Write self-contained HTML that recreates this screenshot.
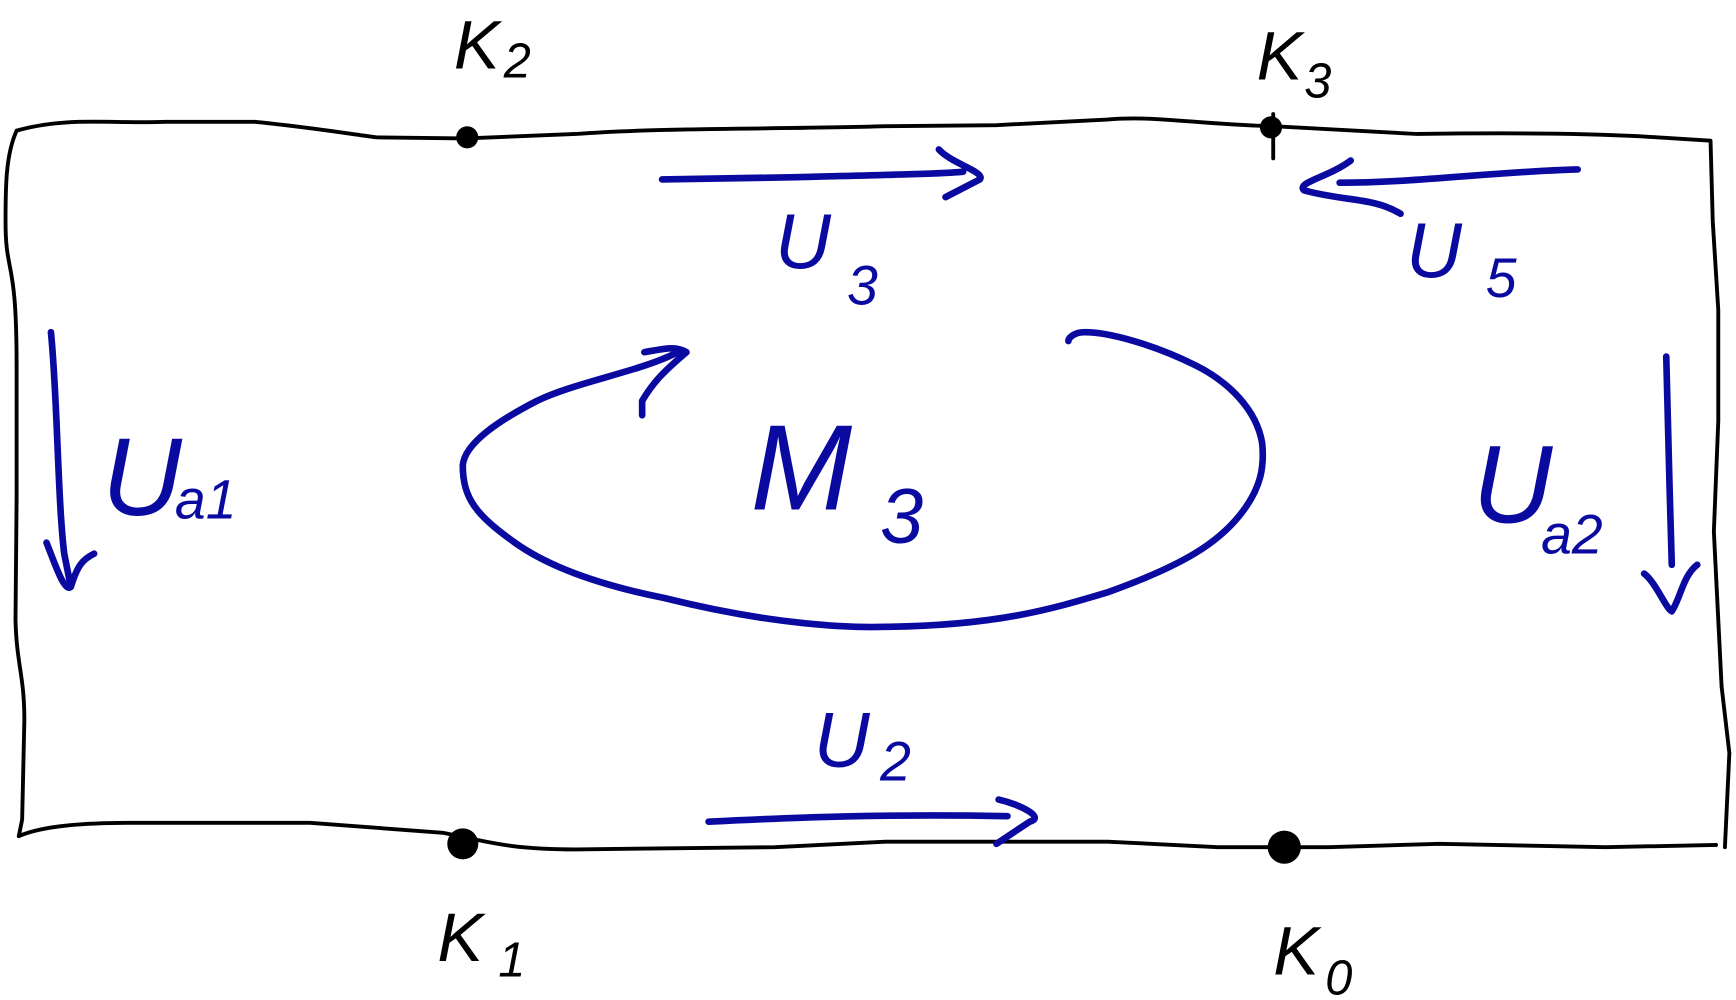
<!DOCTYPE html>
<html><head><meta charset="utf-8"><style>html,body{margin:0;padding:0;background:#fff;}svg{display:block}</style></head><body>
<svg width="1736" height="1000" viewBox="0 0 1568 903" preserveAspectRatio="none" xmlns="http://www.w3.org/2000/svg">
<rect width="1568" height="903" fill="#fff"/>
<g fill="none" stroke="#000" stroke-width="3.5" stroke-linecap="round" stroke-linejoin="round">
<path d="M15 118 C60 105 100 112 150 110 L230 110 C280 115 310 120 340 124 L420 125 L520 121 C600 115 700 117 800 114 L900 113 L1000 108 C1040 104 1080 112 1150 114 L1280 121 C1350 120 1420 120 1480 123 L1545 127 L1547 200 L1552 280 L1552 380 L1548 480 L1552 560 L1555 620 L1562 680 L1558 765"/>
<path d="M15 118 C5 140 5 170 5 200 C5 250 15 230 15 330 L15 450 L14 560 C15 600 22 610 22 650 L20 740 L17 755"/>
<path d="M17 755 C40 745 80 743 120 743 L280 743 L400 752 C440 760 460 767 520 767 L700 765 L800 760 L1000 760 L1100 765 L1200 765 L1300 762 L1450 765 L1550 763"/>
<path d="M1150 103 L1150 143"/>
</g>
<g fill="#000">
<circle cx="422" cy="124" r="10"/><circle cx="1148" cy="115" r="10"/>
<circle cx="418" cy="762" r="14"/><circle cx="1160" cy="765" r="15"/>
</g>
<g fill="none" stroke="#0a0aa0" stroke-width="6" stroke-linecap="round" stroke-linejoin="round">
<path d="M598 162 L720 160 C800 158 850 157 870 155"/>
<path d="M848 135 C860 148 890 155 885 162 L854 178"/>
<path d="M1425 153 C1350 155 1280 165 1210 165"/>
<path d="M1220 145 C1200 160 1170 165 1178 172 C1215 182 1240 178 1265 193"/>
<path d="M640 742 C720 738 800 735 910 737"/>
<path d="M902 722 C920 726 945 738 930 742 L900 762"/>
<path d="M46 300 C52 360 52 450 58 500 L64 530 M42 490 C50 510 58 535 64 530 C70 510 75 505 85 500"/>
<path d="M1505 322 L1508 440 L1510 510 M1485 518 C1495 525 1505 550 1510 552 C1518 540 1520 520 1533 510"/>
<path d="M582 318 C600 315 610 312 620 318 C600 335 590 345 580 362 L580 375"/>
<path d="M612 318 C580 335 520 345 485 362 C450 380 420 400 418 420 C418 450 430 465 465 490 C500 515 550 530 600 540 C700 565 770 567 800 566 C900 565 950 550 1000 535 C1070 510 1100 490 1120 465 C1140 440 1142 420 1140 400 C1135 370 1110 345 1080 330 C1040 310 1000 300 980 300 C970 300 965 305 965 308"/>
</g>
<g font-family="Liberation Sans, sans-serif" font-style="italic">
<text x="410" y="62" font-size="62" fill="#000">K</text><text x="455" y="70" font-size="44" fill="#000">2</text>
<text x="1135" y="72" font-size="62" fill="#000">K</text><text x="1178" y="88" font-size="44" fill="#000">3</text>
<text x="395" y="868" font-size="62" fill="#000">K</text><text x="450" y="882" font-size="44" fill="#000">1</text>
<text x="1150" y="880" font-size="62" fill="#000">K</text><text x="1197" y="898" font-size="44" fill="#000">0</text>
</g>
<g font-family="Liberation Sans, sans-serif" font-style="italic" fill="#0a0aa0">
<text x="700" y="242" font-size="70">U</text><text x="765" y="275" font-size="50">3</text>
<text x="1270" y="250" font-size="70">U</text><text x="1342" y="268" font-size="50">5</text>
<text x="92" y="465" font-size="100">U</text><text x="158" y="468" font-size="50">a1</text>
<text x="1330" y="472" font-size="100">U</text><text x="1392" y="500" font-size="50">a2</text>
<text x="735" y="692" font-size="70">U</text><text x="795" y="705" font-size="50">2</text>
<text x="678" y="460" font-size="110">M</text><text x="795" y="490" font-size="70">3</text>
</g>
</svg>
</body></html>
